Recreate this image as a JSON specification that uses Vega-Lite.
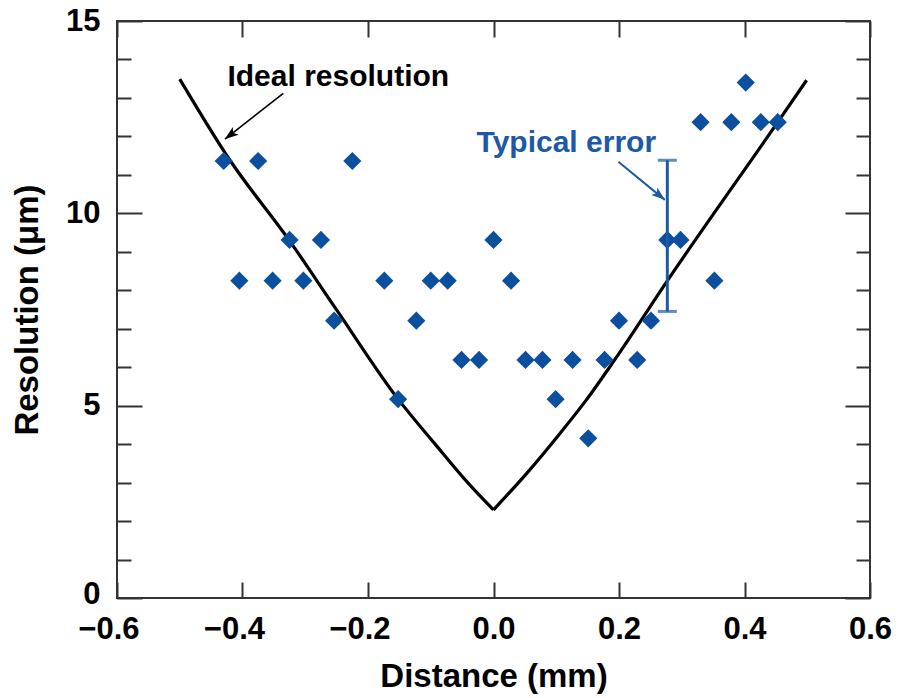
{
  "$schema": "https://vega.github.io/schema/vega-lite/v6.json",
  "width": 753,
  "height": 577,
  "autosize": {"type": "none"},
  "padding": {"left": 117, "top": 21, "right": 29, "bottom": 100},
  "background": "white",
  "config": {
    "view": {"stroke": "#333333", "strokeWidth": 2},
    "font": "Liberation Sans, Arial, Helvetica, sans-serif",
    "axis": {
      "domain": false,
      "grid": false,
      "tickColor": "#333333",
      "tickWidth": 2,
      "labelFont": "Liberation Sans, Arial, Helvetica, sans-serif",
      "labelFontWeight": "bold",
      "labelFontSize": 31,
      "labelColor": "black",
      "titleFont": "Liberation Sans, Arial, Helvetica, sans-serif",
      "titleFontWeight": "bold",
      "titleFontSize": 33,
      "titleColor": "black"
    }
  },
  "datasets": {
    "points": [
      {"d": -0.43, "r": 11.36}, {"d": -0.375, "r": 11.36}, {"d": -0.225, "r": 11.36},
      {"d": -0.325, "r": 9.31}, {"d": -0.275, "r": 9.31}, {"d": 0.0, "r": 9.31}, {"d": 0.277, "r": 9.31}, {"d": 0.298, "r": 9.31},
      {"d": -0.405, "r": 8.25}, {"d": -0.352, "r": 8.25}, {"d": -0.303, "r": 8.25}, {"d": -0.174, "r": 8.25}, {"d": -0.1, "r": 8.25}, {"d": -0.073, "r": 8.25}, {"d": 0.028, "r": 8.25}, {"d": 0.352, "r": 8.25},
      {"d": -0.254, "r": 7.21}, {"d": -0.123, "r": 7.21}, {"d": 0.2, "r": 7.21}, {"d": 0.251, "r": 7.21},
      {"d": -0.051, "r": 6.19}, {"d": -0.023, "r": 6.19}, {"d": 0.051, "r": 6.19}, {"d": 0.078, "r": 6.19}, {"d": 0.126, "r": 6.19}, {"d": 0.177, "r": 6.19}, {"d": 0.229, "r": 6.19},
      {"d": -0.152, "r": 5.17}, {"d": 0.099, "r": 5.17},
      {"d": 0.151, "r": 4.15},
      {"d": 0.33, "r": 12.37}, {"d": 0.379, "r": 12.37}, {"d": 0.426, "r": 12.37}, {"d": 0.453, "r": 12.37},
      {"d": 0.402, "r": 13.4}
    ],
    "ideal": [
      {"side": "L", "d": -0.5, "r": 13.49}, {"side": "L", "d": -0.42, "r": 11.38}, {"side": "L", "d": -0.326, "r": 9.31}, {"side": "L", "d": -0.25, "r": 7.49},
      {"side": "L", "d": -0.152, "r": 5.17}, {"side": "L", "d": -0.094, "r": 4.02}, {"side": "L", "d": -0.04, "r": 2.98}, {"side": "L", "d": 0.0, "r": 2.29},
      {"side": "R", "d": 0.0, "r": 2.29},
      {"side": "R", "d": 0.055, "r": 3.28}, {"side": "R", "d": 0.103, "r": 4.22}, {"side": "R", "d": 0.148, "r": 5.15}, {"side": "R", "d": 0.193, "r": 6.19},
      {"side": "R", "d": 0.278, "r": 8.27}, {"side": "R", "d": 0.453, "r": 12.37}, {"side": "R", "d": 0.499, "r": 13.46}
    ],
    "errbar": [{"d": 0.277, "lo": 7.45, "hi": 11.38}],
    "labels": [{"d": -0.424, "r": 13.54, "text": "Ideal resolution"}],
    "labels2": [{"d": -0.027, "r": 11.82, "text": "Typical error"}],
    "arrowBlack": [{"d": -0.335, "r": 13.12, "d2": -0.428, "r2": 11.93}],
    "arrowBlue": [{"d": 0.199, "r": 11.34, "d2": 0.273, "r2": 10.35}]
  },
  "resolve": {"axis": {"x": "independent", "y": "independent"}},
  "layer": [
    {
      "data": {"name": "ideal"},
      "mark": {"type": "line", "color": "black", "strokeWidth": 3.2, "interpolate": "monotone"},
      "encoding": {
        "x": {"field": "d", "type": "quantitative", "scale": {"domain": [-0.6, 0.6], "nice": false, "zero": false},
              "axis": {"orient": "top", "values": [-0.6, -0.4, -0.2, 0, 0.2, 0.4, 0.6], "tickSize": -16, "labels": false, "title": null}},
        "y": {"field": "r", "type": "quantitative", "scale": {"domain": [0, 15], "nice": false},
              "axis": {"orient": "right", "values": [0, 5, 10, 15], "tickSize": -25, "labels": false, "title": null}},
        "detail": {"field": "side", "type": "nominal"}
      }
    },
    {
      "data": {"name": "points"},
      "mark": {"type": "point", "shape": "diamond", "filled": true, "color": "#0c4f9f", "size": 330, "opacity": 1},
      "encoding": {
        "x": {"field": "d", "type": "quantitative",
              "axis": {"orient": "bottom", "values": [-0.6, -0.4, -0.2, 0, 0.2, 0.4, 0.6], "format": ".1f", "tickSize": -16, "labelPadding": 32,
                       "labelAlign": {"condition": {"test": "datum.value < 0", "value": "right"}, "value": "center"},
                       "labelOffset": {"condition": {"test": "datum.value < 0", "value": 22}, "value": 0},
                       "title": "Distance (mm)", "titlePadding": 16}},
        "y": {"field": "r", "type": "quantitative",
              "axis": {"orient": "left", "values": [0, 5, 10, 15], "format": "d", "tickSize": -25, "labelPadding": 42,
                       "labelOffset": {"condition": {"test": "datum.value === 0", "value": -4}, "value": 0},
                       "title": "Resolution (μm)", "titlePadding": 21}}
      }
    },
    {
      "data": {"name": "errbar"},
      "mark": {"type": "rule", "color": "#1d59a6", "strokeWidth": 3},
      "encoding": {
        "x": {"field": "d", "type": "quantitative", "axis": null},
        "y": {"field": "lo", "type": "quantitative",
              "axis": {"orient": "left", "values": [1, 2, 3, 4, 6, 7, 8, 9, 11, 12, 13, 14], "tickSize": -14, "labels": false, "title": null}},
        "y2": {"field": "hi"}
      }
    },
    {
      "data": {"name": "errbar"},
      "mark": {"type": "tick", "orient": "horizontal", "color": "#1d59a6", "size": 19, "thickness": 3},
      "encoding": {
        "x": {"field": "d", "type": "quantitative", "axis": null},
        "y": {"field": "hi", "type": "quantitative",
              "axis": {"orient": "right", "values": [1, 2, 3, 4, 6, 7, 8, 9, 11, 12, 13, 14], "tickSize": -14, "labels": false, "title": null}}
      }
    },
    {
      "data": {"name": "errbar"},
      "mark": {"type": "tick", "orient": "horizontal", "color": "#1d59a6", "size": 19, "thickness": 3},
      "encoding": {
        "x": {"field": "d", "type": "quantitative", "axis": null},
        "y": {"field": "lo", "type": "quantitative", "axis": null}
      }
    },
    {
      "data": {"name": "arrowBlack"},
      "mark": {"type": "rule", "color": "black", "strokeWidth": 1.6},
      "encoding": {
        "x": {"field": "d", "type": "quantitative", "axis": null},
        "y": {"field": "r", "type": "quantitative", "axis": null},
        "x2": {"field": "d2"},
        "y2": {"field": "r2"}
      }
    },
    {
      "data": {"name": "arrowBlack"},
      "mark": {"type": "point", "shape": "M0,0 L-0.5,1.4 L0,1.05 L0.5,1.4 Z", "filled": true, "color": "black", "size": 380, "opacity": 1, "angle": 232.4},
      "encoding": {
        "x": {"field": "d2", "type": "quantitative", "axis": null},
        "y": {"field": "r2", "type": "quantitative", "axis": null}
      }
    },
    {
      "data": {"name": "arrowBlue"},
      "mark": {"type": "rule", "color": "#1d59a6", "strokeWidth": 2},
      "encoding": {
        "x": {"field": "d", "type": "quantitative", "axis": null},
        "y": {"field": "r", "type": "quantitative", "axis": null},
        "x2": {"field": "d2"},
        "y2": {"field": "r2"}
      }
    },
    {
      "data": {"name": "arrowBlue"},
      "mark": {"type": "point", "shape": "M0,0 L-0.5,1.4 L0,1.05 L0.5,1.4 Z", "filled": true, "color": "#1d59a6", "size": 380, "opacity": 1, "angle": 129.4},
      "encoding": {
        "x": {"field": "d2", "type": "quantitative", "axis": null},
        "y": {"field": "r2", "type": "quantitative", "axis": null}
      }
    },
    {
      "data": {"name": "labels"},
      "mark": {"type": "text", "align": "left", "baseline": "middle", "fontSize": 30, "fontWeight": "bold", "color": "black", "font": "Liberation Sans, Arial, Helvetica, sans-serif"},
      "encoding": {
        "x": {"field": "d", "type": "quantitative", "axis": null},
        "y": {"field": "r", "type": "quantitative", "axis": null},
        "text": {"field": "text"}
      }
    },
    {
      "data": {"name": "labels2"},
      "mark": {"type": "text", "align": "left", "baseline": "middle", "fontSize": 30, "fontWeight": "bold", "color": "#1d59a6", "font": "Liberation Sans, Arial, Helvetica, sans-serif"},
      "encoding": {
        "x": {"field": "d", "type": "quantitative", "axis": null},
        "y": {"field": "r", "type": "quantitative", "axis": null},
        "text": {"field": "text"}
      }
    }
  ]
}
